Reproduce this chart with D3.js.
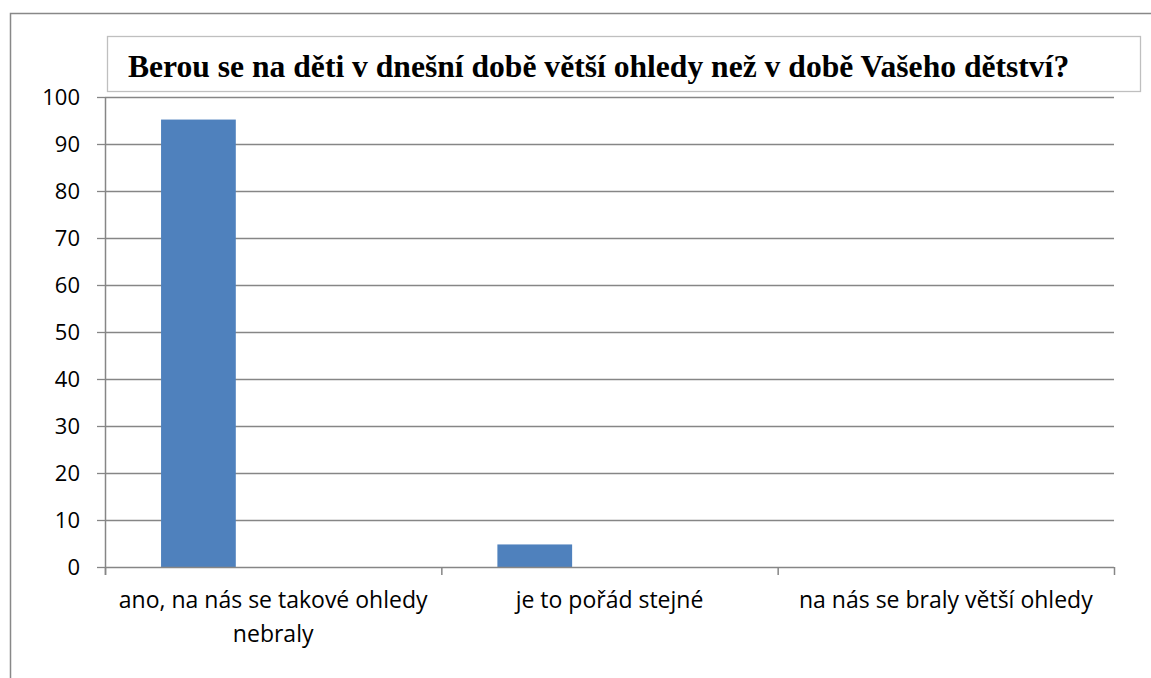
<!DOCTYPE html>
<html>
<head>
<meta charset="utf-8">
<script src="https://cdn.jsdelivr.net/npm/d3@7"></script>
<style>
  body { margin: 0; background: #fff; }
</style>
</head>
<body>
<div id="content"></div>
<script>
// chart data
var titleText = "Berou se na děti v dnešní době větší ohledy než v době Vašeho dětství?"
var categories = [
  ["ano, na nás se takové ohledy", "nebraly"],
  ["je to pořád stejné"],
  ["na nás se braly větší ohledy"]
]
var values = [95.2, 4.8, 0]
var slots = ["s1", "s2", "s3"]   // excel clustered slots, only first one has data
var yTicks = [0, 10, 20, 30, 40, 50, 60, 70, 80, 90, 100]

// sizes
var svgwidth = 1151
var svgheight = 678
var margin = {top: 97, right: 37, bottom: 111, left: 105}
var width = svgwidth - margin.left - margin.right
var height = svgheight - margin.top - margin.bottom

var svg = d3.select("#content").append("svg")
  .attr("width", svgwidth)
  .attr("height", svgheight)

// outer frame (cut off at right/bottom)
svg.append("rect")
  .attr("x", 10.5).attr("y", 13.5)
  .attr("width", 1200).attr("height", 800)
  .attr("fill", "none")
  .style("stroke", "#888")
  .style("stroke-width", 1.5)

var catIdx = categories.map(function(d, i) { return i })
var x = d3.scaleBand().domain(catIdx).range([0, width]).padding(0)
var xs = d3.scaleBand().domain(slots).range([0, x.bandwidth()]).paddingInner(0).paddingOuter(0.75)
var yScale = d3.scaleLinear().domain([0, 100]).range([height, 0])

var g = svg.append("g").attr("transform", "translate(" + margin.left + "," + margin.top + ")")

// gridlines
g.selectAll(".grid").data(yTicks.slice(1)).enter().append("line")
  .attr("x1", 0).attr("x2", width)
  .attr("y1", function(d) { return Math.round(yScale(d)) + 0.5 })
  .attr("y2", function(d) { return Math.round(yScale(d)) + 0.5 })
  .style("stroke", "#868686")
  .style("stroke-width", 1.3)

// bars
g.selectAll(".dataBar").data(values).enter().append("rect")
  .attr("class", "dataBar")
  .attr("x", function(d, i) { return x(i) + xs(slots[0]) })
  .attr("y", function(d) { return yScale(d) })
  .attr("width", xs.bandwidth())
  .attr("height", function(d) { return height - yScale(d) })
  .attr("fill", "#4f81bd")

// y axis
var yAxis = g.append("g")
  .call(d3.axisLeft(yScale).tickValues(yTicks).tickSize(8).tickPadding(17))
yAxis.select(".domain").remove()
yAxis.append("line").attr("x1", 0.5).attr("x2", 0.5).attr("y1", 0).attr("y2", height + 8)
  .style("stroke", "#868686").style("stroke-width", 1.5)
yAxis.selectAll(".tick line").style("stroke", "#868686").style("stroke-width", 1.3)
yAxis.selectAll(".tick text")
  .style("font-family", "'Open Sans', sans-serif")
  .style("font-size", "22px")
  .attr("dy", "0.36em")
  .attr("fill", "#000")

// x axis
g.append("line").attr("x1", 0).attr("x2", width)
  .attr("y1", height + 0.5).attr("y2", height + 0.5)
  .style("stroke", "#868686").style("stroke-width", 1.5)
var bounds = catIdx.map(function(i) { return x(i) }).concat([width])
g.selectAll(".xtick").data(bounds).enter().append("line")
  .attr("x1", function(d) { return d + 0.5 }).attr("x2", function(d) { return d + 0.5 })
  .attr("y1", height).attr("y2", height + 8)
  .style("stroke", "#868686").style("stroke-width", 1.5)

// category labels
categories.forEach(function(lines, i) {
  var t = g.append("text")
    .attr("x", x(i) + x.bandwidth() / 2)
    .attr("y", height + 41)
    .attr("text-anchor", "middle")
    .attr("fill", "#000")
    .style("font-family", "'Open Sans', sans-serif")
    .style("font-size", "23px")
  lines.forEach(function(l, j) {
    t.append("tspan").attr("x", x(i) + x.bandwidth() / 2).attr("dy", j == 0 ? 0 : 34).text(l)
  })
})

// title box
svg.append("rect")
  .attr("x", 107.5).attr("y", 36.5)
  .attr("width", 1033).attr("height", 55)
  .attr("fill", "#fff")
  .style("stroke", "#bfbfbf")
  .style("stroke-width", 1.3)
svg.append("text")
  .attr("x", 128).attr("y", 77)
  .attr("fill", "#000")
  .style("font-family", "'Liberation Serif', serif")
  .style("font-weight", "bold")
  .style("font-size", "31.6px")
  .text(titleText)
</script>
</body>
</html>
